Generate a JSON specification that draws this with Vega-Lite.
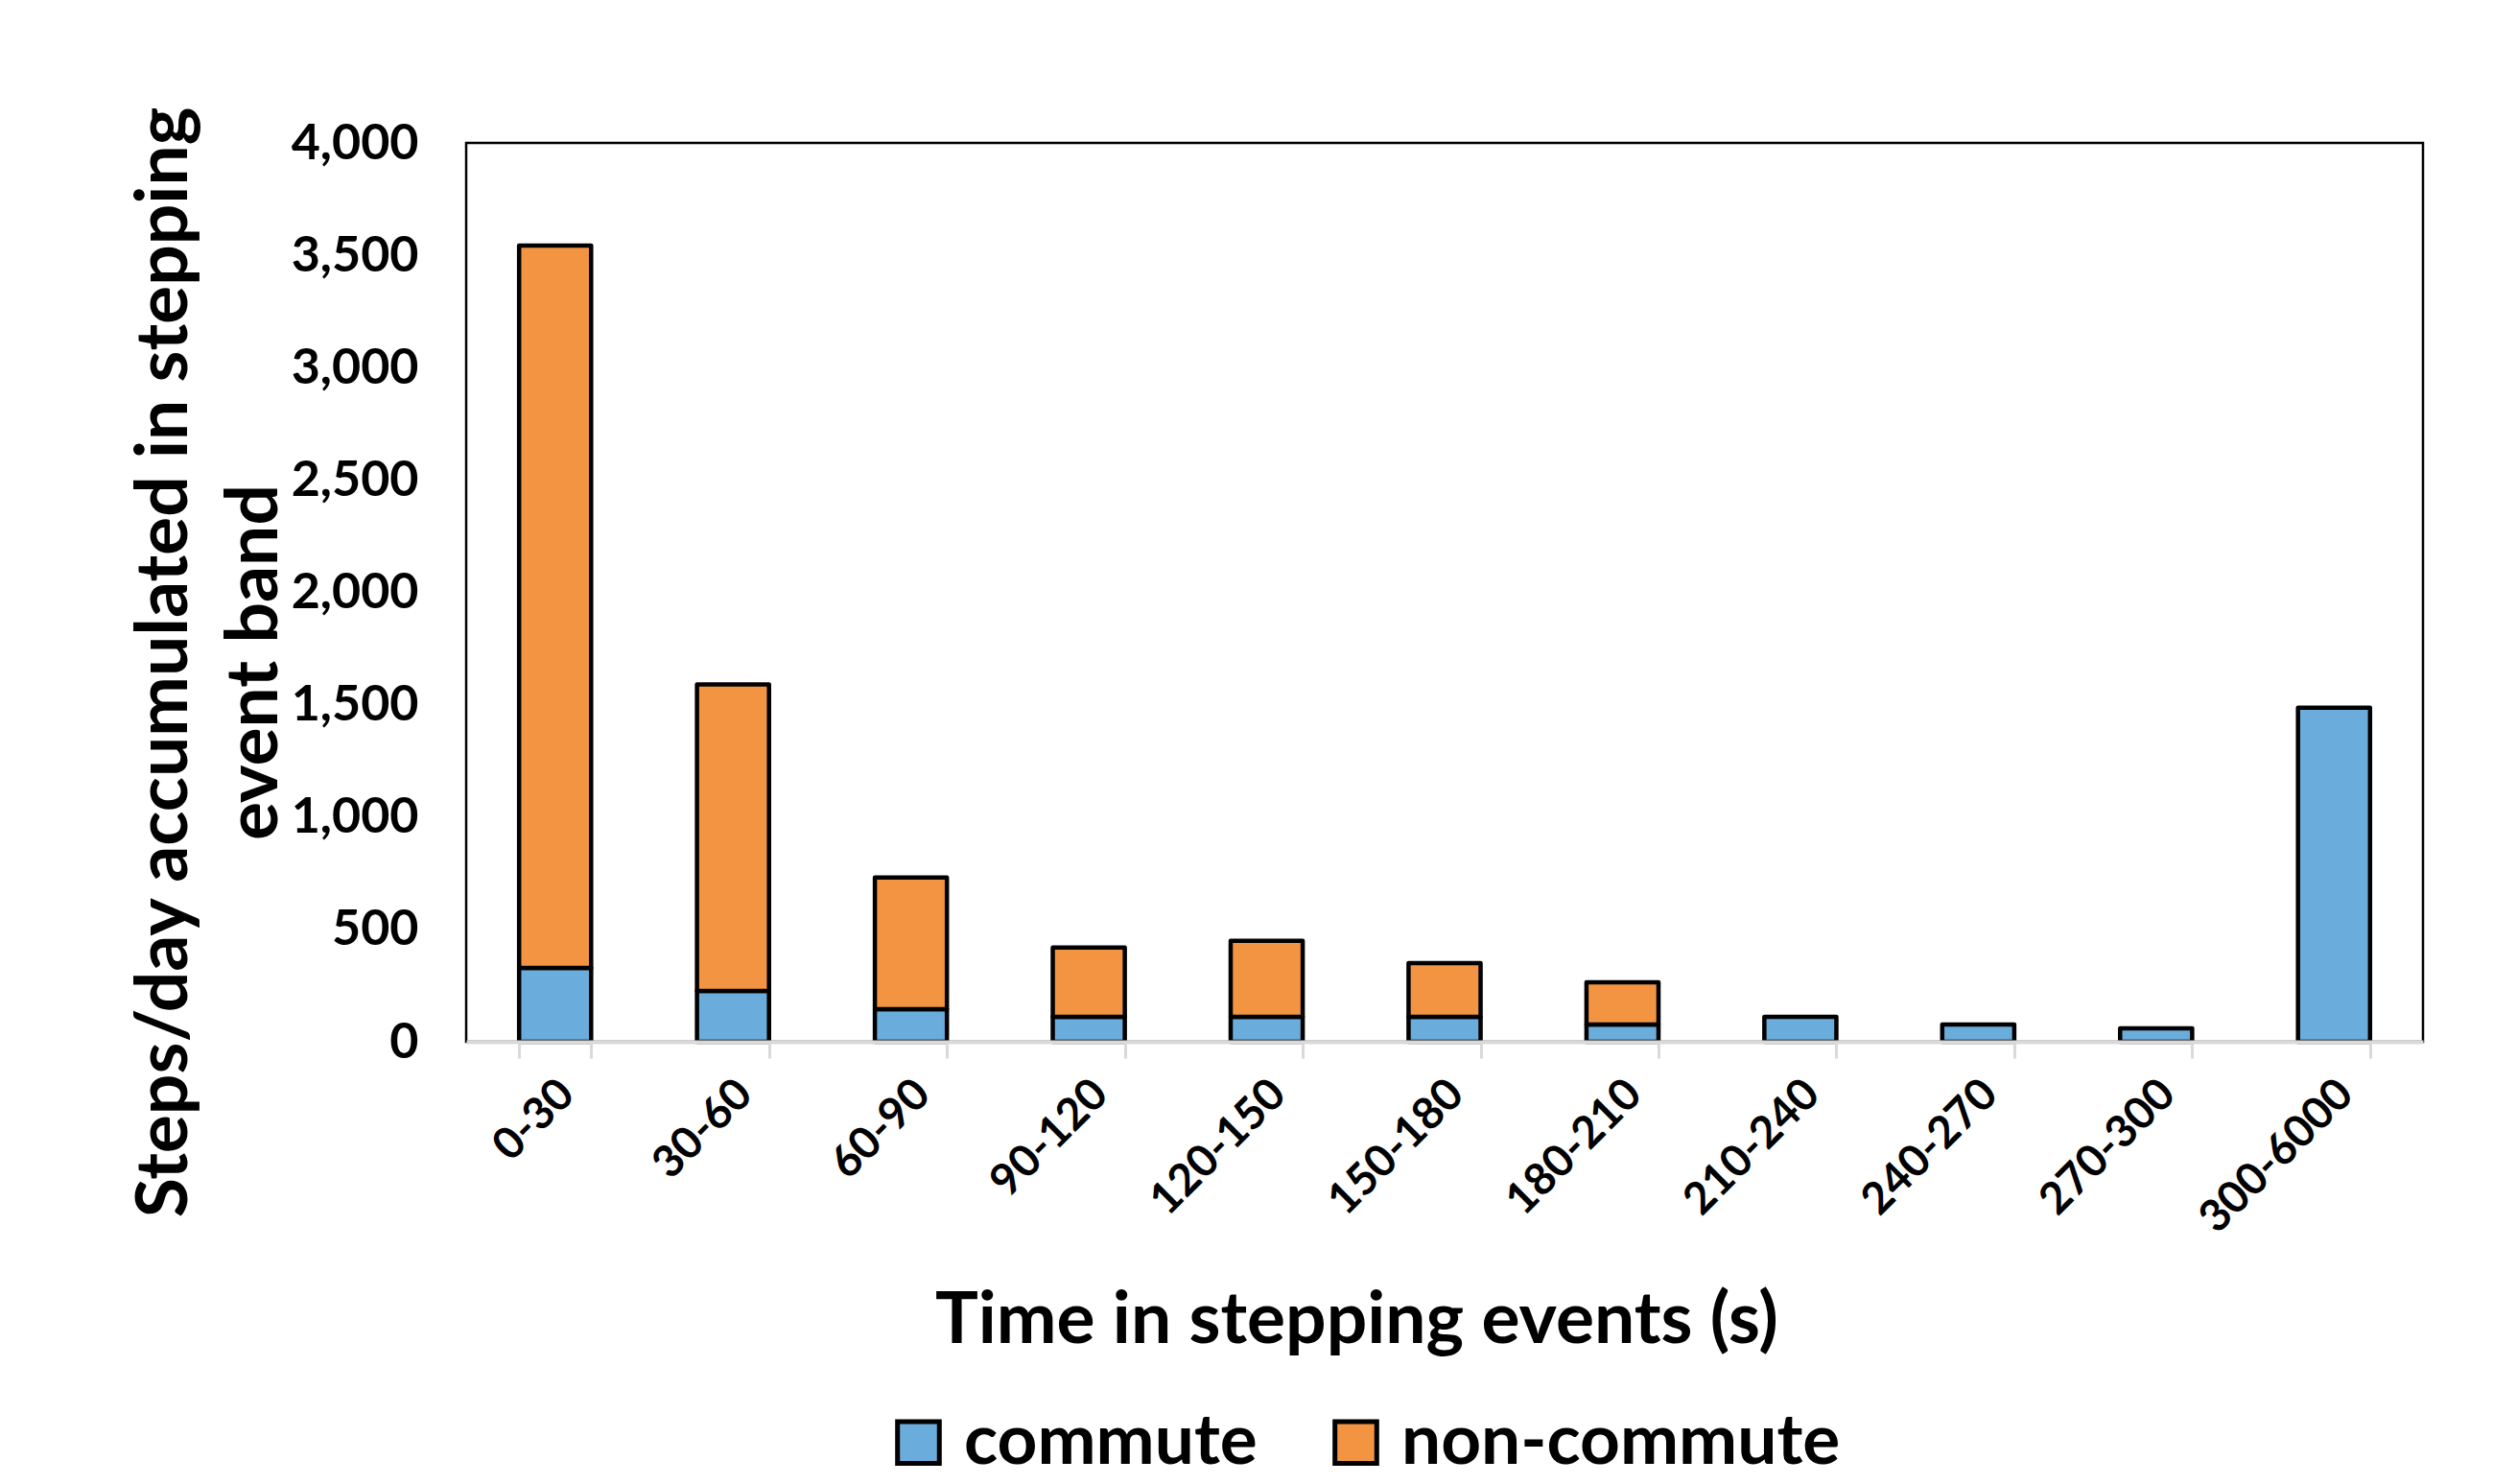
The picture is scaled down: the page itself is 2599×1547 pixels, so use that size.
{
  "$schema": "https://vega.github.io/schema/vega-lite/v6.json",
  "width": 2040,
  "height": 937,
  "autosize": "none",
  "padding": {"left": 486, "top": 149, "right": 73, "bottom": 461},
  "background": "white",
  "config": {
    "view": {"stroke": "black", "strokeWidth": 2.5},
    "font": "Lato",
    "axis": {"labelColor": "black", "titleColor": "black", "labelFontWeight": "bold", "titleFontWeight": "bold", "grid": false}
  },
  "data": {
    "values": [
      {"band": "0-30", "type": "commute", "steps": 329},
      {"band": "0-30", "type": "non-commute", "steps": 3214},
      {"band": "30-60", "type": "commute", "steps": 226},
      {"band": "30-60", "type": "non-commute", "steps": 1364},
      {"band": "60-90", "type": "commute", "steps": 145},
      {"band": "60-90", "type": "non-commute", "steps": 586},
      {"band": "90-120", "type": "commute", "steps": 111},
      {"band": "90-120", "type": "non-commute", "steps": 308},
      {"band": "120-150", "type": "commute", "steps": 111},
      {"band": "120-150", "type": "non-commute", "steps": 338},
      {"band": "150-180", "type": "commute", "steps": 111},
      {"band": "150-180", "type": "non-commute", "steps": 239},
      {"band": "180-210", "type": "commute", "steps": 77},
      {"band": "180-210", "type": "non-commute", "steps": 188},
      {"band": "210-240", "type": "commute", "steps": 111},
      {"band": "240-270", "type": "commute", "steps": 77},
      {"band": "270-300", "type": "commute", "steps": 60},
      {"band": "300-6000", "type": "commute", "steps": 1487}
    ]
  },
  "mark": {"type": "bar", "stroke": "black", "strokeWidth": 4.5, "strokeJoin": "round"},
  "encoding": {
    "x": {
      "field": "band",
      "type": "ordinal",
      "sort": ["0-30", "30-60", "60-90", "90-120", "120-150", "150-180", "180-210", "210-240", "240-270", "270-300", "300-6000"],
      "scale": {"paddingInner": 0.595, "paddingOuter": 0.2975},
      "axis": {
        "title": "Time in stepping events (s)",
        "titleFontSize": 75,
        "titleX": 928,
        "titleY": 313,
        "titleAlign": "center",
        "titleBaseline": "alphabetic",
        "domainColor": "#d9d9d9",
        "domainWidth": 4,
        "tickColor": "#d9d9d9",
        "tickWidth": 3,
        "tickSize": 17,
        "tickBand": "extent",
        "labelAngle": -45,
        "labelAlign": "right",
        "labelBaseline": "middle",
        "labelFontSize": 46,
        "labelPadding": 30,
        "labelOffset": 12,
        "labelLimit": 500,
        "zindex": 1
      }
    },
    "y": {
      "field": "steps",
      "type": "quantitative",
      "stack": "zero",
      "scale": {"domain": [0, 4000]},
      "axis": {
        "values": [0, 500, 1000, 1500, 2000, 2500, 3000, 3500, 4000],
        "format": ",d",
        "labelFontSize": 52,
        "labelPadding": 50,
        "ticks": false,
        "domain": false,
        "title": ["Steps/day accumulated in stepping", "event band"],
        "titleFontSize": 75,
        "titleLineHeight": 94,
        "titleAngle": -90,
        "titleX": -315,
        "titleY": 541,
        "titleAlign": "center",
        "titleBaseline": "middle"
      }
    },
    "order": {"field": "type", "sort": "ascending"},
    "color": {
      "field": "type",
      "type": "nominal",
      "scale": {"domain": ["commute", "non-commute"], "range": ["#6AACDC", "#F29441"]},
      "legend": {
        "orient": "none",
        "legendX": 435,
        "legendY": 1318,
        "direction": "horizontal",
        "title": null,
        "symbolType": "square",
        "symbolSize": 1900,
        "symbolStrokeColor": "black",
        "symbolStrokeWidth": 5,
        "labelFontSize": 73,
        "labelFontWeight": "bold",
        "labelColor": "black",
        "labelOffset": 11,
        "labelLimit": 1000,
        "columnPadding": 66,
        "padding": 0
      }
    }
  }
}
